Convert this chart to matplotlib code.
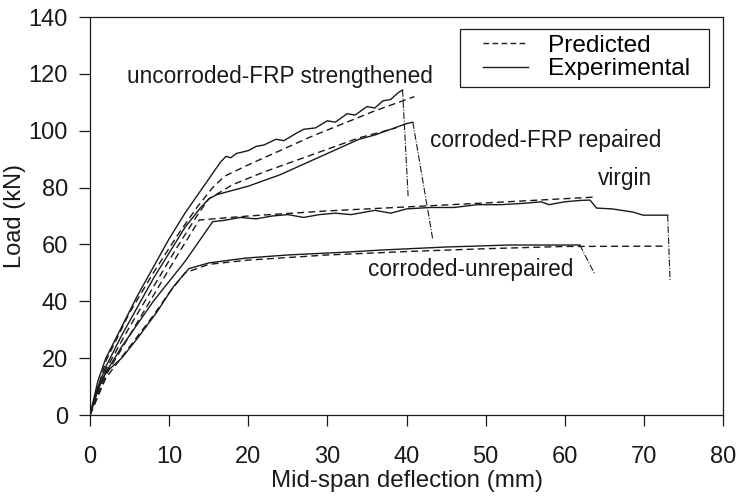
import matplotlib
matplotlib.use('Agg')
import matplotlib.pyplot as plt
from matplotlib.lines import Line2D
from matplotlib.patches import Rectangle

plt.rcParams['font.family'] = ['Liberation Sans', 'DejaVu Sans']

# uncorroded-FRP strengthened
ufrp_exp_x = [0, 1, 2, 4, 6, 8, 10, 12, 14, 15.5, 16.5, 17.2, 17.8, 18.5, 20, 21, 22, 23.5, 24.5, 26, 27, 28.5, 30, 31, 32.5, 33.5, 35, 36, 37, 38, 39, 39.5]
ufrp_exp_y = [0, 12, 20, 31, 42, 52, 62, 71, 79, 85, 89, 91, 90.5, 92, 93, 94.5, 95, 97, 96.5, 99, 100.5, 101, 103.5, 103, 106, 105.5, 108.5, 108, 110.5, 111, 113.5, 114.3]
ufrp_drop_x = [39.5, 40.2]
ufrp_drop_y = [114.3, 77]
ufrp_pre_x = [0, 2, 5, 8, 11, 13.5, 15.5, 17, 20, 24, 28, 32, 36, 39, 41]
ufrp_pre_y = [0, 19, 36, 50, 63, 73, 80, 84, 88, 93, 98, 102.5, 107, 110, 112]

# corroded-FRP repaired
cfrp_exp_x = [0, 1, 2, 4, 6, 8, 10, 12, 14, 15, 16, 18, 20, 22, 24, 26, 28, 30, 32, 34, 36, 38, 40, 40.8]
cfrp_exp_y = [0, 10, 17, 28, 38, 48, 57, 66, 73, 76, 77.5, 79, 80.5, 82.5, 84.5, 87, 89.5, 92, 94.5, 97, 98.5, 100.5, 102.5, 103]
cfrp_drop_x = [40.8, 43.3]
cfrp_drop_y = [103, 62]
cfrp_pre_x = [0, 2, 5, 8, 11, 13.5, 15, 18, 22, 26, 30, 34, 38.7]
cfrp_pre_y = [0, 16, 31, 45, 59, 70, 76, 81, 85.5, 89.5, 93.5, 97.5, 101]

# virgin
virgin_exp_x = [0, 1, 2, 4, 6, 8, 10, 12, 14, 15.5, 17, 19, 21, 23, 25, 27, 29, 31, 33, 36, 38, 40, 43, 46, 49, 52, 55, 57, 58, 60, 62, 63.2, 64, 66, 68.6, 69.9, 73]
virgin_exp_y = [0, 9, 15, 24, 32, 40, 47, 54, 62, 68, 68.5, 69.5, 69, 70, 70.5, 69.5, 70.5, 71, 70.5, 72, 71, 72.5, 73, 73, 74, 74, 74.5, 75, 74, 75, 75.5, 75.6, 72.8, 72.5, 71.4, 70.3, 70.3]
virgin_drop_x = [73, 73.3]
virgin_drop_y = [70.3, 47.5]
virgin_pre_x = [0, 2, 5, 8, 11, 13.8, 20, 30, 40, 50, 58, 64]
virgin_pre_y = [0, 14, 28, 42, 56, 68.6, 70, 71.8, 73.2, 74.6, 75.8, 76.7]

# corroded-unrepaired
cunr_exp_x = [0, 1, 2, 4, 6, 8.4, 10.5, 12.5, 15, 19.7, 25, 32.4, 36.6, 45, 53, 61.9]
cunr_exp_y = [0, 9, 15, 20, 27, 36, 45, 51.5, 53.5, 55.2, 56.3, 57.3, 58, 59.1, 59.8, 59.8]
cunr_drop_x = [61.9, 63.8]
cunr_drop_y = [59.8, 49.5]
cunr_pre_x = [0, 2, 5, 8, 10, 12, 15, 20, 30, 40, 50, 60, 72.4]
cunr_pre_y = [0, 13, 24, 35, 43, 50, 53, 54.5, 56.3, 57.5, 58.5, 59.3, 59.4]

labels = ['uncorroded-FRP strengthened', 'corroded-FRP repaired', 'virgin', 'corroded-unrepaired']
label_x = [4.7, 43.0, 64.2, 35.1]
label_y = [116.8, 94.4, 80.9, 48.9]

fig = plt.figure(figsize=(7.39, 4.99), dpi=100)
ax = fig.add_axes([0.1218, 0.1683, 0.8566, 0.7976])

col = '#1a1a1a'
exps = [(ufrp_exp_x, ufrp_exp_y), (cfrp_exp_x, cfrp_exp_y), (virgin_exp_x, virgin_exp_y), (cunr_exp_x, cunr_exp_y)]
drops = [(ufrp_drop_x, ufrp_drop_y), (cfrp_drop_x, cfrp_drop_y), (virgin_drop_x, virgin_drop_y), (cunr_drop_x, cunr_drop_y)]
preds = [(ufrp_pre_x, ufrp_pre_y), (cfrp_pre_x, cfrp_pre_y), (virgin_pre_x, virgin_pre_y), (cunr_pre_x, cunr_pre_y)]

for x, y in exps:
    ax.plot(x, y, color=col, lw=1.0, ls='-')
for x, y in drops:
    ax.plot(x, y, color=col, lw=0.8, ls=(0, (6, 1.5, 1, 1.5)))
for x, y in preds:
    ax.plot(x, y, color=col, lw=1.0, ls=(0, (5, 3)))

for t, x, y in zip(labels, label_x, label_y):
    ax.text(x, y, t, fontsize=16.3, color=col, va='baseline', ha='left')

ax.set_xlim(0, 80)
ax.set_ylim(0, 140)
ax.set_xticks(range(0, 81, 10))
ax.set_yticks(range(0, 141, 20))
ax.tick_params(direction='out', length=8, width=0.9, labelsize=17, colors=col)
ax.tick_params(axis='x', pad=14)
ax.tick_params(axis='y', pad=8)
for s in ax.spines.values():
    s.set_linewidth(0.9)
    s.set_color(col)
ax.set_xlabel('Mid-span deflection (mm)', fontsize=17.4, color=col, labelpad=2)
ax.set_ylabel('Load (kN)', fontsize=17, color=col, labelpad=2)

# legend box drawn separately, legend entries placed inside it
ax.add_patch(Rectangle((0.5845, 0.824), 0.3935, 0.1458, transform=ax.transAxes,
                       facecolor='white', edgecolor=col, lw=0.9, zorder=5))
handles = [Line2D([], [], color=col, lw=1.0, ls=(0, (4, 2.5))),
           Line2D([], [], color=col, lw=1.0, ls='-')]
leg = ax.legend(handles, ['Predicted', 'Experimental'], loc='upper left',
                bbox_to_anchor=(0.621, 0.955), borderaxespad=0, borderpad=0,
                fontsize=17.6, frameon=False, handlelength=1.85,
                labelspacing=0.05, handletextpad=0.8)
leg.set_zorder(6)

fig.savefig('out.png', dpi=100)
